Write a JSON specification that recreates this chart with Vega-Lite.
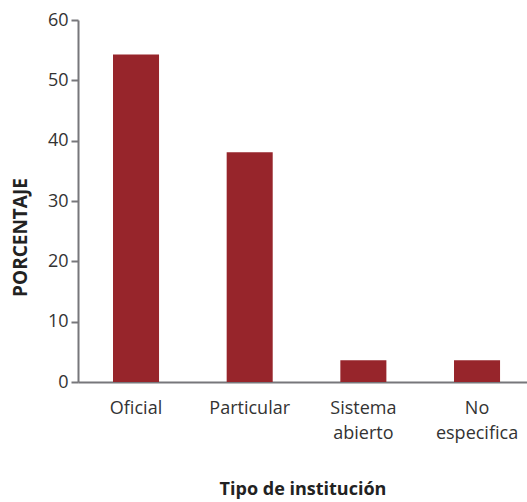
{
  "$schema": "https://vega.github.io/schema/vega-lite/v6.json",
  "width": 449,
  "height": 362,
  "autosize": {"type": "none"},
  "padding": {"left": 78, "top": 20, "right": 0, "bottom": 120},
  "background": "white",
  "config": {"view": {"stroke": null}, "font": "Open Sans"},
  "data": {"values": [
    {"tipo": "Oficial", "pct": 54.3},
    {"tipo": "Particular", "pct": 38.1},
    {"tipo": "Sistema abierto", "pct": 3.6},
    {"tipo": "No especifica", "pct": 3.6}
  ]},
  "mark": {"type": "bar", "color": "#97252B"},
  "encoding": {
    "x": {
      "field": "tipo", "type": "nominal", "sort": null,
      "scale": {"paddingInner": 0.595, "paddingOuter": 0.2725, "align": 0.565},
      "axis": {
        "title": "Tipo de institución",
        "titleFont": "Open Sans", "titleFontSize": 18, "titleFontWeight": "bold", "titleColor": "#222",
        "titleY": 107, "titleBaseline": "middle",
        "labelAngle": 0, "labelFontSize": 18, "labelColor": "#333", "labelFont": "Open Sans",
        "labelExpr": "split(datum.label, ' ')", "labelLineHeight": 25, "labelPadding": 17,
        "ticks": false, "domainColor": "#77777b", "domainWidth": 2
      }
    },
    "y": {
      "field": "pct", "type": "quantitative",
      "scale": {"domain": [0, 60], "nice": false},
      "axis": {
        "title": "PORCENTAJE", "titleFontSize": 19, "titleFontWeight": "bold", "titleColor": "#222",
        "titlePadding": 17, "titleY": 217,
        "values": [0, 10, 20, 30, 40, 50, 60], "grid": false,
        "labelFontSize": 18, "labelColor": "#333", "labelPadding": 3,
        "tickSize": 7, "tickColor": "#77777b", "tickWidth": 2,
        "domainColor": "#77777b", "domainWidth": 2
      }
    }
  }
}
